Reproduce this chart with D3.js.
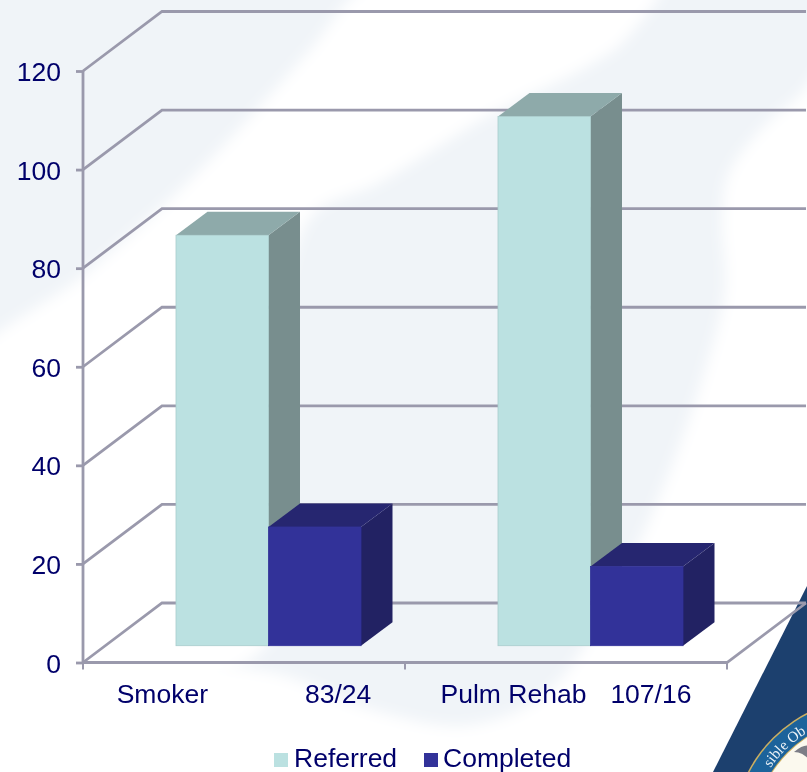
<!DOCTYPE html>
<html><head><meta charset="utf-8">
<script src="https://cdn.jsdelivr.net/npm/d3@7"></script>
<style>
html,body{margin:0;padding:0;background:#fff;overflow:hidden}
svg{display:block}
text{font-family:"Liberation Sans",Arial,sans-serif;font-size:26.5px;fill:#03036b}
</style></head><body>
<script>
const categories = ["Smoker", "Pulm Rehab"];
const categoryCounts = ["83/24", "107/16"];
const seriesNames = ["Referred", "Completed"];
const referred = [83, 107];
const completed = [24, 16];
const yTicks = [0, 20, 40, 60, 80, 100, 120];

const W = 807, H = 772;
const wall = {dx: 79, dy: 59.5};
const depth = {dx: 31.5, dy: 23.5};
const labelGaps = [97, 24];
const palette = {
  Referred: {front: "#bbe1e1", top: "#8eaaaa", side: "#788e8e", edge: "#a8cccc"},
  Completed: {front: "#333399", top: "#262670", side: "#222263", edge: "#333399"}
};
const axisColor = "#9a99ac";

const svg = d3.select("body").append("svg").attr("width", W).attr("height", H);
const defs = svg.append("defs");
defs.append("filter").attr("id", "soft").attr("x", "-20%").attr("y", "-20%").attr("width", "140%").attr("height", "140%")
  .append("feGaussianBlur").attr("stdDeviation", 7);
defs.append("filter").attr("id", "soft1").attr("x", "-5%").attr("y", "-5%").attr("width", "110%").attr("height", "110%")
  .append("feGaussianBlur").attr("stdDeviation", 0.5);

// slide background
const bg = svg.append("g");
bg.append("rect").attr("width", W).attr("height", H).attr("fill", "#f0f4f8");
const blob = d3.line().curve(d3.curveCatmullRomClosed.alpha(0.5));
const whiteShapes = [
  [[-60,395],[90,270],[190,180],[270,95],[310,50],[377,-20],[665,-30],[625,40],[590,65],[490,115],[425,155],[375,185],[315,212],[290,270],[275,420],[270,640],[120,700],[-60,660]],
  [[830,60],[800,95],[765,125],[728,175],[722,220],[725,290],[705,370],[670,470],[625,570],[550,690],[470,725],[380,712],[270,672],[120,660],[-60,640],[-60,830],[860,830]]
];
bg.selectAll("path.w").data(whiteShapes).join("path").attr("class", "w")
  .attr("d", blob).attr("fill", "#fff").attr("filter", "url(#soft)");

// seal in the corner
const seal = svg.append("g").attr("filter", "url(#soft1)");
seal.append("path").attr("d", "M809,582 L713,772 L809,772 Z").attr("fill", "#1f3f6e");
const sealC = [870, 835];
seal.append("circle").attr("cx", sealC[0]).attr("cy", sealC[1]).attr("r", 137.5).attr("fill", "#cdb060");
seal.append("circle").attr("cx", sealC[0]).attr("cy", sealC[1]).attr("r", 136).attr("fill", "#1c639b");
seal.append("circle").attr("cx", sealC[0]).attr("cy", sealC[1]).attr("r", 117).attr("fill", "#cdb060");
seal.append("circle").attr("cx", sealC[0]).attr("cy", sealC[1]).attr("r", 116).attr("fill", "#fbf9ee");
seal.append("path").attr("d", "M794,752 Q804,744 809,746 L809,760 Q803,752 794,752 Z").attr("fill", "#7b7d86");
const arcR = 120, arcA = 34 * Math.PI / 180;
defs.append("path").attr("id", "sealArc")
  .attr("d", `M${sealC[0] - arcR * Math.cos(arcA)},${sealC[1] - arcR * Math.sin(arcA)} A${arcR},${arcR} 0 0 1 ${sealC[0]},${sealC[1] - arcR}`);
seal.append("text").style("font-family", '"Liberation Serif",serif').style("font-size", "15px").style("fill", "#eef4f8")
  .append("textPath").attr("href", "#sealArc").text("sible Ob");

// scales
const y = d3.scaleLinear().domain([0, 120]).range([662.5, 71]);
const yBar = d3.scaleLinear().domain([0, 120]).range([645.7, 52.3]);
const x = d3.scaleBand().domain(categories).range([83, 727]);
const xs = d3.scaleBand().domain(seriesNames).range([93, 278]);

const chart = svg.append("g").attr("filter", "url(#soft1)");

// walls and gridlines
const grid = chart.append("g").attr("fill", "none").attr("stroke", axisColor).attr("stroke-width", 2.8);
const backX = 83 + wall.dx;
grid.selectAll("path.grid").data(yTicks).join("path").attr("class", "grid")
  .attr("d", v => d3.line()([[83, y(v)], [backX, y(v) - wall.dy], [727 + wall.dx, y(v) - wall.dy]]));
grid.append("path").attr("d", d3.line()([[83, y(0)], [727, y(0)], [727 + wall.dx, y(0) - wall.dy]]));

// bars
const rows = categories.map((c, i) => ({c, vals: [
  {s: "Referred", v: referred[i]}, {s: "Completed", v: completed[i]}
]}));
const groups = chart.append("g").selectAll("g").data(rows).join("g")
  .attr("transform", d => `translate(${x(d.c)},0)`);
const bars = groups.selectAll("g").data(d => d.vals).join("g");
const geom = d => {
  const x0 = xs(d.s), x1 = x0 + xs.bandwidth();
  return {x0, x1, base: yBar(0), top: yBar(d.v)};
};
bars.append("path").attr("fill", d => palette[d.s].side).attr("d", d => {
  const g = geom(d);
  return d3.line()([[g.x1, g.top], [g.x1 + depth.dx, g.top - depth.dy], [g.x1 + depth.dx, g.base - depth.dy], [g.x1, g.base]]) + "Z";
});
bars.append("path").attr("fill", d => palette[d.s].top).attr("d", d => {
  const g = geom(d);
  return d3.line()([[g.x0, g.top], [g.x0 + depth.dx, g.top - depth.dy], [g.x1 + depth.dx, g.top - depth.dy], [g.x1, g.top]]) + "Z";
});
bars.append("rect")
  .attr("x", d => geom(d).x0).attr("y", d => geom(d).top)
  .attr("width", xs.bandwidth()).attr("height", d => geom(d).base - geom(d).top)
  .attr("fill", d => palette[d.s].front).attr("stroke", d => palette[d.s].edge).attr("stroke-width", 0.8);

// y axis
const yAxis = chart.append("g").attr("transform", "translate(83,0)")
  .call(d3.axisLeft(y).tickValues(yTicks).tickSize(7).tickPadding(15));
yAxis.selectAll("path,line").attr("stroke", axisColor).attr("stroke-width", 2.8);
yAxis.select(".domain").attr("d", `M0,${y(120)}V${y(0)}`);
yAxis.selectAll("text").attr("dy", "0.36em").attr("fill", null)
  .style("font-family", '"Liberation Sans",Arial,sans-serif').style("font-size", "26.5px");

// x ticks at band edges
chart.append("g").selectAll("line").data([0, 1, 2]).join("line")
  .attr("x1", i => 83 + i * x.step()).attr("x2", i => 83 + i * x.step())
  .attr("y1", y(0)).attr("y2", y(0) + 7)
  .attr("stroke", axisColor).attr("stroke-width", 2);

// category labels
const labels = chart.append("g").selectAll("text").data(categories).join("text")
  .attr("x", c => x(c) + x.bandwidth() / 2).attr("y", 703).attr("text-anchor", "middle");
labels.append("tspan").text(c => c);
labels.append("tspan").attr("dx", (c, i) => labelGaps[i]).text((c, i) => categoryCounts[i]);

// legend
const legendX = [274, 424];
const legend = chart.append("g").selectAll("g").data(seriesNames).join("g")
  .attr("transform", (s, i) => `translate(${legendX[i]},753)`);
legend.append("rect").attr("width", 14).attr("height", 14).attr("fill", s => palette[s].front);
legend.append("text").attr("x", (s, i) => i ? 19 : 20).attr("y", 14).text(s => s);
</script>
</body></html>
